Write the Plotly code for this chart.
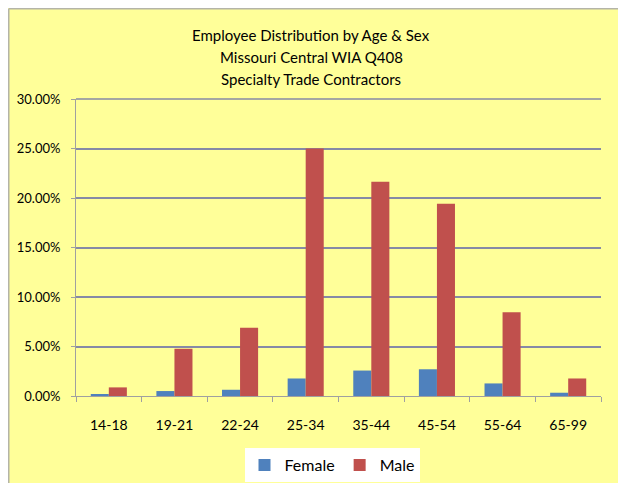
import plotly.graph_objects as go

age_groups = ["14-18", "19-21", "22-24", "25-34", "35-44", "45-54", "55-64", "65-99"]
female = [0.0020, 0.0050, 0.0063, 0.0177, 0.0257, 0.0270, 0.0127, 0.0033]
male = [0.0087, 0.0477, 0.0690, 0.2500, 0.2163, 0.1943, 0.0847, 0.0177]
title_lines = ["Employee Distribution by Age & Sex", "Missouri Central WIA Q408", "Specialty Trade Contractors"]

# The browser page has an 8px body margin, so the figure is sized to fill
# the rest of the 626x483 window; page pixel coordinates are converted below.
OFF = 8
W, H = 626 - OFF, 483 - OFF
PLOT_LEFT, PLOT_RIGHT, PLOT_TOP, PLOT_BOTTOM = 76, 601, 99, 396  # page pixels
L = PLOT_LEFT - OFF
R = W - (PLOT_RIGHT - OFF)
T = PLOT_TOP - OFF
B = H - (PLOT_BOTTOM - OFF)
pw, ph = W - L - R, H - T - B

def px_x(x):  # page pixel -> paper
    return (x - OFF - L) / pw

def px_y(y):
    return (H - B - (y - OFF)) / ph

FONT = "Lato, 'Open Sans', sans-serif"
YELLOW = "#FFFF99"
BORDER = "#B4B4A8"
GRID = "#868AA6"

fig = go.Figure()
fig.add_trace(go.Bar(name="Female", x=age_groups, y=female, marker=dict(color="#4F81BD", line=dict(width=0))))
fig.add_trace(go.Bar(name="Male", x=age_groups, y=male, marker=dict(color="#C0504D", line=dict(width=0))))

# grey frame line along the top and left of the chart area
fig.add_shape(type="line", xref="paper", yref="paper",
              x0=px_x(OFF + 0.75), x1=px_x(700), y0=px_y(OFF + 0.75), y1=px_y(OFF + 0.75),
              line=dict(color=BORDER, width=1.5), layer="above")
fig.add_shape(type="line", xref="paper", yref="paper",
              x0=px_x(OFF + 0.75), x1=px_x(OFF + 0.75), y0=px_y(700), y1=px_y(OFF + 0.75),
              line=dict(color=BORDER, width=1.5), layer="above")
# top gridline of the plot area (plotly skips the grid line at the range edge)
fig.add_shape(type="line", xref="paper", yref="paper", x0=0, x1=1, y0=1, y1=1,
              line=dict(color=GRID, width=1.5), layer="below")

for i, line in enumerate(title_lines):
    fig.add_annotation(text=line, xref="paper", yref="paper", x=px_x(311), y=px_y(35 + 22 * i),
                       showarrow=False, xanchor="center", yanchor="middle",
                       font=dict(family=FONT, size=15, color="#000000"))

fig.update_layout(
    width=W, height=H,
    margin=dict(l=L, r=R, t=T, b=B, pad=0, autoexpand=False),
    paper_bgcolor=YELLOW,
    plot_bgcolor=YELLOW,
    barmode="group",
    bargap=0.45,
    bargroupgap=0,
    font=dict(family=FONT, size=13, color="#000000"),
    showlegend=True,
    legend=dict(orientation="h", x=(332 - OFF) / W, y=1 - (448 - OFF) / H, xref="container", yref="container",
                xanchor="center", yanchor="top",
                bgcolor="white", font=dict(family=FONT, size=16), itemwidth=30,
                tracegroupgap=0),
)
fig.update_xaxes(
    type="category", showgrid=False, showline=True, linecolor="#A0A0A0", linewidth=1,
    ticks="outside", ticklen=5, tickcolor="#A0A0A0", tickson="boundaries",
    ticklabelstandoff=16, tickfont=dict(family=FONT, size=14), automargin=False,
)
fig.update_yaxes(
    range=[0, 0.30], dtick=0.05, tickformat=".2%", showgrid=True, gridcolor=GRID, gridwidth=1.5,
    showline=True, linecolor="#A0A0A0", linewidth=1, ticks="outside", ticklen=4, tickcolor="#A0A0A0",
    zeroline=False, ticklabelstandoff=8, tickfont=dict(family=FONT, size=13), automargin=False,
)

fig.write_html("out.html")
